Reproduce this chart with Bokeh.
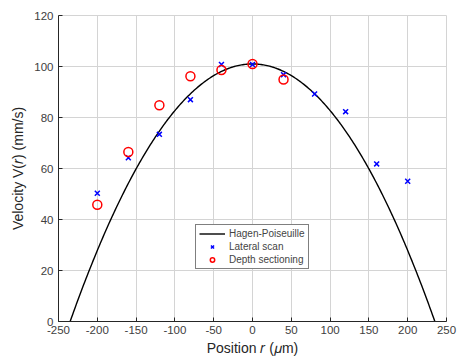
import numpy as np
from bokeh.plotting import figure
from bokeh.models import Range1d, Legend, LegendItem, FixedTicker
from bokeh.embed import file_html
from bokeh.resources import INLINE

# Hagen-Poiseuille model parameters
v_max = 101.0      # mm/s, peak velocity at r = 0
radius = 235.0     # um, where the profile reaches zero

lateral_r = [-200, -160, -120, -80, -40, 0, 40, 80, 120, 160, 200]
lateral_v = [50.3, 64.2, 73.4, 87.0, 100.8, 100.8, 96.8, 89.2, 82.3, 61.8, 55.0]

depth_r = [-200, -160, -120, -80, -40, 0, 40]
depth_v = [45.8, 66.5, 84.8, 96.2, 98.6, 101.0, 94.9]

x_ticks = [-250, -200, -150, -100, -50, 0, 50, 100, 150, 200, 250]
y_ticks = [0, 20, 40, 60, 80, 100, 120]

r_model = np.linspace(-radius, radius, 301)
v_model = v_max * (1 - (r_model / radius) ** 2)

FONT = "Liberation Sans"
GRID = "#d4d4d4"

p = figure(width=457, height=358, output_backend="svg", toolbar_location=None,
           x_range=Range1d(-250, 250), y_range=Range1d(0, 120),
           min_border_left=58, min_border_right=11, min_border_top=15, min_border_bottom=35)

l0 = p.line(r_model, v_model, line_color="black", line_width=1.4)
l1 = p.scatter(lateral_r, lateral_v, marker="x", size=7, line_color="#0000ff", line_width=1.5)
l2 = p.scatter(depth_r, depth_v, marker="circle", size=9, fill_color=None,
               line_color="#ff0000", line_width=1.5)

p.xaxis.ticker = FixedTicker(ticks=x_ticks)
p.yaxis.ticker = FixedTicker(ticks=y_ticks)
p.xaxis.major_label_overrides = {t: str(t) for t in x_ticks}
p.yaxis.major_label_overrides = {t: str(t) for t in y_ticks}
p.xaxis.axis_label = "Position \U0001D45F (\U0001D707m)"
p.yaxis.axis_label = "Velocity V(\U0001D45F) (mm/s)"
for ax in (p.xaxis, p.yaxis):
    ax.axis_label_text_font = FONT
    ax.axis_label_text_font_size = "14px"
    ax.axis_label_text_font_style = "normal"
    ax.axis_label_text_color = "#262626"
    ax.major_label_text_font = FONT
    ax.major_label_text_font_size = "11.5px"
    ax.major_label_text_color = "#404040"
    ax.major_tick_in = 4
    ax.major_tick_out = 0
    ax.minor_tick_line_color = None
    ax.axis_line_color = "#262626"
    ax.major_tick_line_color = "#262626"
p.xaxis.axis_label_standoff = 3
p.yaxis.axis_label_standoff = 5
p.xaxis.major_label_standoff = 4
p.yaxis.major_label_standoff = 5

p.xgrid.grid_line_color = GRID
p.ygrid.grid_line_color = GRID
p.xgrid.ticker = FixedTicker(ticks=x_ticks)
p.ygrid.ticker = FixedTicker(ticks=y_ticks)
p.outline_line_color = GRID
p.background_fill_color = "white"
p.border_fill_color = "white"

legend = Legend(items=[
    LegendItem(label="Hagen-Poiseuille", renderers=[l0]),
    LegendItem(label="Lateral scan", renderers=[l1]),
    LegendItem(label="Depth sectioning", renderers=[l2]),
], location=(137, 52))
legend.label_text_font = FONT
legend.label_text_font_size = "10px"
legend.label_height = 11
legend.glyph_height = 11
legend.glyph_width = 26
legend.spacing = 2
legend.padding = 3
legend.margin = 0
legend.label_standoff = 4
legend.border_line_color = "black"
legend.border_line_width = 1
legend.background_fill_alpha = 1
p.add_layout(legend)

open("out.html", "w").write(file_html(p, INLINE))
